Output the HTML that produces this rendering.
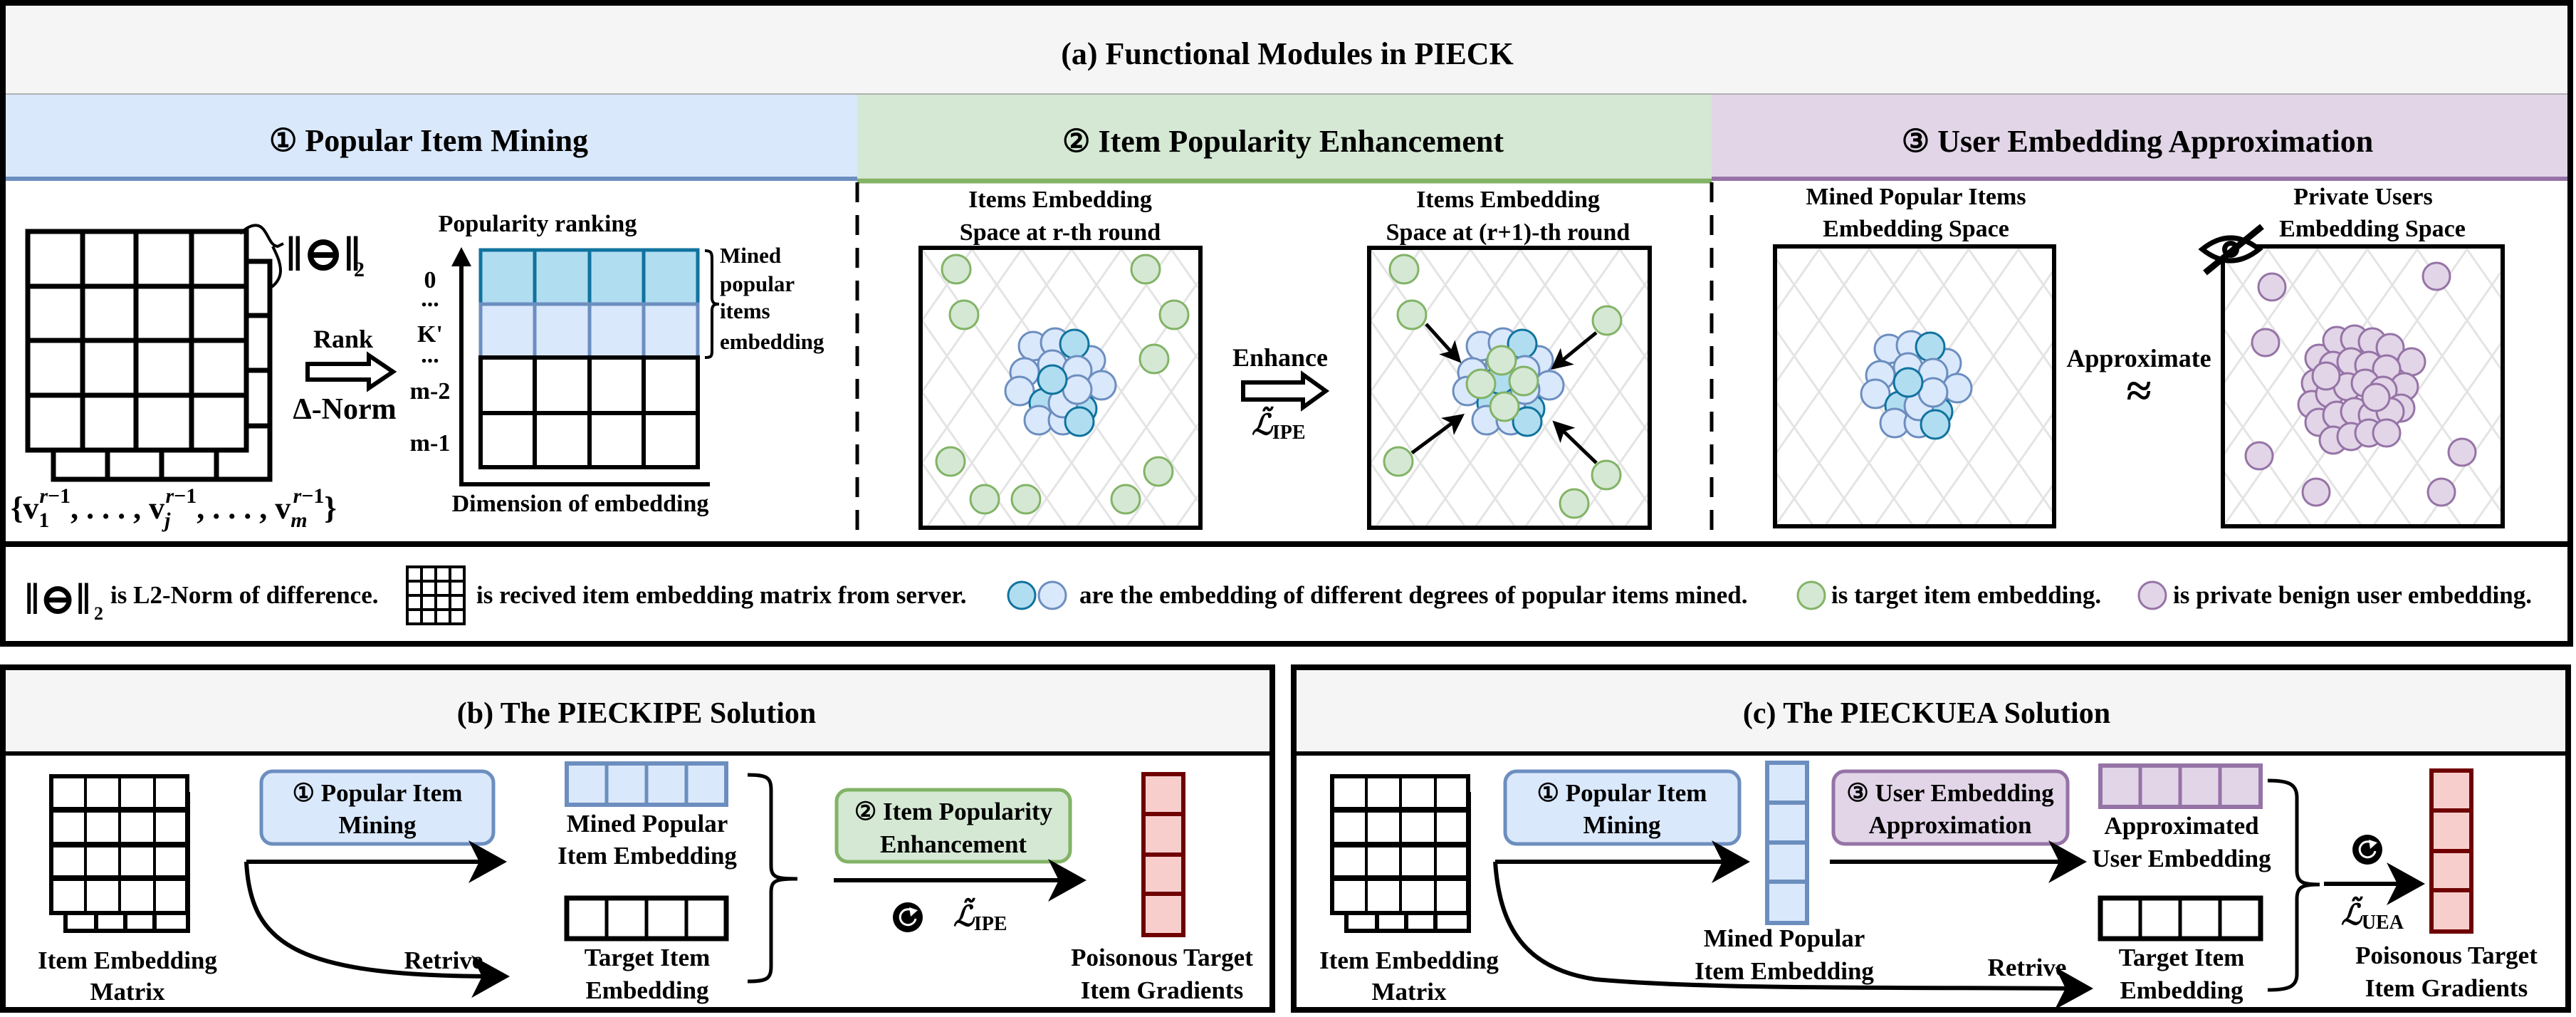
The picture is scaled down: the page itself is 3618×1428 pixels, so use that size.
<!DOCTYPE html>
<html><head><meta charset="utf-8">
<style>
html,body{margin:0;padding:0;background:#fff;}
svg{display:block;}
text{font-family:"Liberation Serif","DejaVu Serif",serif;font-weight:bold;fill:#000;}
</style></head>
<body>
<svg width="3618" height="1428" viewBox="0 0 3618 1428" xmlns="http://www.w3.org/2000/svg">
<defs>
<pattern id="lat" width="70" height="100" patternUnits="userSpaceOnUse">
<path d="M0,0 L70,100 M70,0 L0,100" stroke="#e4e4e4" stroke-width="3" fill="none"/>
</pattern>
<marker id="ah" markerWidth="10" markerHeight="10" refX="8" refY="5" orient="auto" markerUnits="strokeWidth">
<path d="M0,0 L9,5 L0,10 L2.5,5 Z" fill="#000"/>
</marker>
<marker id="ah2" markerWidth="6" markerHeight="6" refX="5" refY="3" orient="auto" markerUnits="strokeWidth">
<path d="M0,0 L6,3 L0,6 L1.5,3 Z" fill="#000"/>
</marker>
<g id="clus">
<g fill="#dae8fc" stroke="#6c8ebf" stroke-width="3">
<circle cx="-38" cy="-53" r="20"/><circle cx="-7" cy="-58" r="20"/><circle cx="43" cy="-33" r="20"/>
<circle cx="-50" cy="-16" r="20"/><circle cx="-11" cy="-27" r="20"/>
</g>
<circle cx="20" cy="-56" r="20" fill="#b1ddf0" stroke="#10739e" stroke-width="3"/>
<g fill="#dae8fc" stroke="#6c8ebf" stroke-width="3">
<circle cx="24" cy="-19" r="20"/><circle cx="-57" cy="10" r="20"/><circle cx="58" cy="2" r="20"/>
</g>
<circle cx="-23" cy="27" r="20" fill="#b1ddf0" stroke="#10739e" stroke-width="3"/>
<circle cx="31" cy="35" r="20" fill="#b1ddf0" stroke="#10739e" stroke-width="3"/>
<g fill="#dae8fc" stroke="#6c8ebf" stroke-width="3">
<circle cx="-30" cy="51" r="20"/><circle cx="4" cy="51" r="20"/><circle cx="4" cy="27" r="20"/><circle cx="24" cy="8" r="20"/>
</g>
<circle cx="-11" cy="-6" r="20" fill="#b1ddf0" stroke="#10739e" stroke-width="3"/>
<circle cx="27" cy="53" r="20" fill="#b1ddf0" stroke="#10739e" stroke-width="3"/>
</g>
<g id="refr">
<circle r="21" fill="#000"/>
<path d="M8,-8 A11,11 0 1 0 11,2" fill="none" stroke="#fff" stroke-width="3"/>
<path d="M2,-14 L14,-10 L4,-1 Z" fill="#fff"/>
</g>
<g id="mat">
<rect x="20" y="25" width="172" height="192" fill="#fff" stroke="#000" stroke-width="6"/>
<path d="M63,217V192M104,217V192M145,217V192M192,72H170M192,120H170M192,167H170" stroke="#000" stroke-width="6"/>
<rect x="0" y="0" width="191" height="192" fill="#fff" stroke="#000" stroke-width="6"/>
<path d="M48,0V192M96,0V192M145,0V192" stroke="#000" stroke-width="4"/>
<path d="M0,47H191M0,96H191M0,143H191" stroke="#000" stroke-width="8"/>
</g>
</defs>

<!-- (a) -->
<rect x="4" y="4" width="3606" height="128" fill="#f5f5f5"/>
<rect x="4" y="132" width="1200" height="118" fill="#dae8fc"/>
<rect x="1204" y="132" width="1200" height="118" fill="#d5e8d4"/>
<rect x="2404" y="132" width="1206" height="118" fill="#e1d5e7"/>
<line x1="4" y1="132" x2="3610" y2="132" stroke="#b0b0b0" stroke-width="2"/>
<line x1="4" y1="251" x2="1204" y2="251" stroke="#6c8ebf" stroke-width="6"/>
<line x1="1204" y1="254" x2="2404" y2="254" stroke="#82b366" stroke-width="7"/>
<line x1="2404" y1="251" x2="3610" y2="251" stroke="#9673a6" stroke-width="6"/>
<text x="1808" y="90" font-size="44" text-anchor="middle">(a) Functional Modules in PIECK</text>
<text x="602" y="212" font-size="44" text-anchor="middle">① Popular Item Mining</text>
<text x="1802" y="213" font-size="44" text-anchor="middle">② Item Popularity Enhancement</text>
<text x="3002" y="213" font-size="44" text-anchor="middle">③ User Embedding Approximation</text>
<line x1="1204" y1="256" x2="1204" y2="762" stroke="#000" stroke-width="5" stroke-dasharray="28,18"/>
<line x1="2404" y1="256" x2="2404" y2="762" stroke="#000" stroke-width="5" stroke-dasharray="28,18"/>
<line x1="4" y1="764" x2="3610" y2="764" stroke="#000" stroke-width="8"/>
<rect x="4" y="4" width="3606" height="900" fill="none" stroke="#000" stroke-width="8"/>

<!-- Section 1 -->
<g stroke="#000" stroke-width="7" fill="#fff">
<rect x="75" y="367" width="304" height="306"/>
<path d="M151,673V632M227,673V632M304,673V632M379,443H346M379,520H346M379,598H346" fill="none"/>
<rect x="39" y="325" width="307" height="307"/>
<path d="M116,325V632M191,325V632M269,325V632M39,402H346M39,478H346M39,555H346" fill="none"/>
</g>
<path d="M337,328 C350,316 362,312 370,322 C378,332 380,345 390,346 L398,342 M383,346 C388,356 394,368 394,380 C394,392 386,400 380,404" fill="none" stroke="#000" stroke-width="4"/>
<text x="402" y="380" font-size="70" font-family="DejaVu Sans" font-weight="normal">‖⊖‖</text>
<text x="497" y="388" font-size="30">2</text>
<text x="15" y="728" font-size="44" font-weight="normal">{<tspan font-weight="bold">v</tspan><tspan font-size="30" dy="12">1</tspan><tspan font-size="30" font-style="italic" dx="-14" dy="-34">r</tspan><tspan font-size="30">−1</tspan><tspan dy="22">, . . . , </tspan><tspan font-weight="bold">v</tspan><tspan font-size="30" font-style="italic" dy="12">j</tspan><tspan font-size="30" font-style="italic" dx="-7" dy="-34">r</tspan><tspan font-size="30">−1</tspan><tspan dy="22">, . . . , </tspan><tspan font-weight="bold">v</tspan><tspan font-size="30" font-style="italic" dy="12">m</tspan><tspan font-size="30" font-style="italic" dx="-20" dy="-34">r</tspan><tspan font-size="30">−1</tspan><tspan dy="22">}</tspan></text>
<text x="482" y="488" font-size="36" text-anchor="middle" font-weight="normal">Rank</text>
<path d="M432,511 H518 V499 L552,522 L518,545 V533 H432 Z" fill="#fff" stroke="#000" stroke-width="6"/>
<text x="484" y="588" font-size="42" text-anchor="middle" font-weight="normal">Δ-Norm</text>
<text x="755" y="325" font-size="34" text-anchor="middle">Popularity ranking</text>
<line x1="648" y1="682" x2="648" y2="372" stroke="#000" stroke-width="6"/>
<path d="M634,374 L648,347 L662,374 Z" fill="#000"/>
<line x1="645" y1="680" x2="997" y2="680" stroke="#000" stroke-width="6"/>
<g stroke-width="5">
<rect x="675" y="351" width="305" height="76" fill="#b1ddf0" stroke="#10739e"/>
<path d="M751,351V427M828,351V427M904,351V427" stroke="#10739e"/>
<rect x="675" y="427" width="305" height="75" fill="#dae8fc" stroke="#6c8ebf"/>
<path d="M751,427V502M828,427V502M904,427V502" stroke="#6c8ebf"/>
</g>
<g stroke="#000" stroke-width="6" fill="#fff">
<rect x="675" y="502" width="305" height="154"/>
<path d="M751,502V656M828,502V656M904,502V656M675,580H980" fill="none"/>
</g>
<line x1="675" y1="427" x2="980" y2="427" stroke="#6c8ebf" stroke-width="5"/>
<g font-size="34" text-anchor="middle">
<text x="604" y="404">0</text><text x="604" y="430">...</text><text x="604" y="480">K'</text>
<text x="604" y="509">...</text><text x="604" y="560">m-2</text><text x="604" y="633">m-1</text>
</g>
<text x="815" y="718" font-size="34" text-anchor="middle">Dimension of  embedding</text>
<path d="M990,352 C1000,352 1000,356 1000,366 L1000,418 C1000,426 1004,427 1010,427 C1004,427 1000,428 1000,436 L1000,490 C1000,500 1000,502 990,502" fill="none" stroke="#000" stroke-width="4"/>
<g font-size="31"><text x="1011" y="369">Mined</text><text x="1011" y="409">popular</text><text x="1011" y="447">items</text><text x="1011" y="490">embedding</text></g>

<!-- Section 2 -->
<g font-size="34" text-anchor="middle">
<text x="1489" y="291">Items Embedding</text><text x="1489" y="337">Space at r-th round</text>
<text x="2118" y="291">Items Embedding</text><text x="2118" y="337">Space at (r+1)-th round</text>
</g>
<rect x="1293" y="348" width="393" height="393" fill="url(#lat)" stroke="#000" stroke-width="6"/>
<rect x="1923" y="348" width="394" height="393" fill="url(#lat)" stroke="#000" stroke-width="6"/>
<g fill="#d5e8d4" stroke="#82b366" stroke-width="3">
<circle cx="1343" cy="378" r="20"/><circle cx="1609" cy="378" r="20"/><circle cx="1354" cy="442" r="20"/>
<circle cx="1649" cy="442" r="20"/><circle cx="1621" cy="504" r="20"/><circle cx="1335" cy="648" r="20"/>
<circle cx="1627" cy="662" r="20"/><circle cx="1383" cy="701" r="20"/><circle cx="1441" cy="701" r="20"/>
<circle cx="1581" cy="701" r="20"/>
</g>
<use href="#clus" x="1489" y="539"/>
<use href="#clus" x="2118" y="539"/>
<g fill="#d5e8d4" stroke="#82b366" stroke-width="3">
<circle cx="2109" cy="506" r="20"/><circle cx="2080" cy="539" r="20"/><circle cx="2140" cy="535" r="20"/><circle cx="2113" cy="571" r="20"/>
<circle cx="1972" cy="378" r="20"/><circle cx="1983" cy="442" r="20"/><circle cx="2257" cy="450" r="20"/>
<circle cx="1964" cy="648" r="20"/><circle cx="2256" cy="667" r="20"/><circle cx="2211" cy="707" r="20"/>
</g>
<g stroke="#000" stroke-width="5" marker-end="url(#ah2)">
<line x1="2003" y1="455" x2="2049" y2="506"/><line x1="2242" y1="467" x2="2182" y2="516"/>
<line x1="1983" y1="636" x2="2053" y2="584"/><line x1="2242" y1="650" x2="2184" y2="594"/>
</g>
<text x="1798" y="514" font-size="36" text-anchor="middle" font-weight="normal">Enhance</text>
<path d="M1746,537 H1830 V526 L1862,549 L1830,572 V561 H1746 Z" fill="#fff" stroke="#000" stroke-width="6"/>
<text x="1758" y="610" font-size="40" font-style="italic" font-weight="normal">ℒ̃<tspan font-size="28" font-style="normal" dy="6">IPE</tspan></text>

<!-- Section 3 -->
<g font-size="34" text-anchor="middle">
<text x="2691" y="287">Mined Popular Items</text><text x="2691" y="332">Embedding Space</text>
<text x="3319" y="287">Private Users</text><text x="3332" y="332">Embedding Space</text>
</g>
<rect x="2493" y="346" width="392" height="393" fill="url(#lat)" stroke="#000" stroke-width="6"/>
<rect x="3122" y="346" width="393" height="393" fill="url(#lat)" stroke="#000" stroke-width="6"/>
<use href="#clus" x="2691" y="543"/>
<g fill="#e1d5e7" stroke="#9673a6" stroke-width="3">
<circle cx="3191" cy="403" r="19"/><circle cx="3422" cy="388" r="19"/><circle cx="3182" cy="481" r="19"/>
<circle cx="3173" cy="640" r="19"/><circle cx="3458" cy="635" r="19"/><circle cx="3253" cy="691" r="19"/><circle cx="3429" cy="691" r="19"/>
<g transform="translate(3317,538)">
<circle cx="-60" cy="-35" r="19"/><circle cx="-35" cy="-60" r="19"/><circle cx="-10" cy="-62" r="19"/><circle cx="15" cy="-58" r="19"/>
<circle cx="40" cy="-50" r="19"/><circle cx="70" cy="-30" r="19"/><circle cx="-65" cy="0" r="19"/><circle cx="-40" cy="-25" r="19"/>
<circle cx="-15" cy="-30" r="19"/><circle cx="10" cy="-25" r="19"/><circle cx="35" cy="-20" r="19"/><circle cx="60" cy="5" r="19"/>
<circle cx="-70" cy="30" r="19"/><circle cx="-45" cy="15" r="19"/><circle cx="-20" cy="5" r="19"/><circle cx="5" cy="0" r="19"/>
<circle cx="30" cy="10" r="19"/><circle cx="55" cy="35" r="19"/><circle cx="-60" cy="55" r="19"/><circle cx="-35" cy="45" r="19"/>
<circle cx="-10" cy="40" r="19"/><circle cx="15" cy="45" r="19"/><circle cx="40" cy="40" r="19"/><circle cx="-40" cy="80" r="19"/>
<circle cx="-15" cy="75" r="19"/><circle cx="10" cy="70" r="19"/><circle cx="35" cy="70" r="19"/><circle cx="-50" cy="-10" r="19"/>
<circle cx="20" cy="20" r="19"/>
</g>
</g>
<g>
<path d="M3093,350 Q3133,318 3173,350 Q3133,382 3093,350 Z" fill="#fff" stroke="#000" stroke-width="7"/>
<circle cx="3133" cy="350" r="12" fill="#000"/><circle cx="3133" cy="350" r="5" fill="#fff"/>
<line x1="3097" y1="383" x2="3177" y2="318" stroke="#000" stroke-width="9"/>
</g>
<text x="3004" y="515" font-size="36" text-anchor="middle">Approximate</text>
<text x="3004" y="570" font-size="64" text-anchor="middle" font-weight="normal" font-family="DejaVu Serif">≈</text>

<!-- Legend -->
<text x="35" y="862" font-size="62" font-family="DejaVu Sans" font-weight="normal">‖⊖‖</text>
<text x="132" y="870" font-size="26">2</text>
<text x="155" y="847" font-size="35">is L2-Norm of difference.</text>
<g transform="translate(572,796)">
<rect x="0" y="0" width="80" height="80" fill="#fff" stroke="#000" stroke-width="4"/>
<path d="M20,0V80M40,0V80M60,0V80M0,20H80M0,40H80M0,60H80" stroke="#000" stroke-width="4"/>
</g>
<text x="669" y="847" font-size="35">is recived item embedding matrix from server.</text>
<circle cx="1435" cy="836" r="19" fill="#b1ddf0" stroke="#10739e" stroke-width="3"/>
<circle cx="1478" cy="836" r="19" fill="#dae8fc" stroke="#6c8ebf" stroke-width="3"/>
<text x="1516" y="847" font-size="35">are the embedding of different degrees of popular items mined.</text>
<circle cx="2544" cy="836" r="19" fill="#d5e8d4" stroke="#82b366" stroke-width="3"/>
<text x="2572" y="847" font-size="35">is target item embedding.</text>
<circle cx="3023" cy="836" r="19" fill="#e1d5e7" stroke="#9673a6" stroke-width="3"/>
<text x="3052" y="847" font-size="35">is private benign user embedding.</text>

<!-- (b) -->
<rect x="4" y="940" width="1783" height="117" fill="#f5f5f5"/>
<line x1="4" y1="1058" x2="1787" y2="1058" stroke="#000" stroke-width="6"/>
<rect x="4" y="937" width="1783" height="481" fill="none" stroke="#000" stroke-width="8"/>
<text x="894" y="1015" font-size="42" text-anchor="middle">(b) The PIECKIPE Solution</text>
<use href="#mat" x="72" y="1090"/>
<g font-size="35" text-anchor="middle">
<text x="179" y="1360">Item Embedding</text><text x="179" y="1404">Matrix</text>
</g>
<rect x="367" y="1083" width="326" height="102" rx="16" fill="#dae8fc" stroke="#6c8ebf" stroke-width="5"/>
<g font-size="35" text-anchor="middle"><text x="530" y="1125">① Popular Item</text><text x="530" y="1170">Mining</text></g>
<path d="M346,1210 H706" stroke="#000" stroke-width="6" fill="none" marker-end="url(#ah)"/>
<path d="M346,1210 C352,1330 420,1372 710,1371" stroke="#000" stroke-width="6" fill="none" marker-end="url(#ah)"/>
<text x="623" y="1360" font-size="35" text-anchor="middle">Retrive</text>
<rect x="796" y="1072" width="224" height="58" fill="#dae8fc" stroke="#6c8ebf" stroke-width="6"/>
<path d="M852,1072V1130M908,1072V1130M964,1072V1130" stroke="#6c8ebf" stroke-width="5"/>
<g font-size="35" text-anchor="middle"><text x="909" y="1168">Mined Popular</text><text x="909" y="1213">Item Embedding</text></g>
<rect x="796" y="1261" width="224" height="57" fill="#fff" stroke="#000" stroke-width="7"/>
<path d="M852,1261V1318M908,1261V1318M964,1261V1318" stroke="#000" stroke-width="5"/>
<g font-size="35" text-anchor="middle"><text x="909" y="1356">Target Item</text><text x="909" y="1402">Embedding</text></g>
<path d="M1050,1088 C1078,1088 1083,1092 1083,1110 L1083,1215 C1083,1232 1090,1234 1120,1234 C1090,1234 1083,1236 1083,1253 L1083,1356 C1083,1374 1078,1378 1050,1378" fill="none" stroke="#000" stroke-width="5"/>
<rect x="1175" y="1109" width="328" height="101" rx="16" fill="#d5e8d4" stroke="#82b366" stroke-width="5"/>
<g font-size="35" text-anchor="middle"><text x="1339" y="1151">② Item Popularity</text><text x="1339" y="1197">Enhancement</text></g>
<path d="M1171,1236 H1520" stroke="#000" stroke-width="6" fill="none" marker-end="url(#ah)"/>
<use href="#refr" x="1275" y="1288"/>
<text x="1339" y="1300" font-size="40" font-style="italic" font-weight="normal">ℒ̃<tspan font-size="28" font-style="normal" dy="6">IPE</tspan></text>
<g transform="translate(1606,1087)">
<rect x="0" y="0" width="56" height="226" fill="#f8cecc" stroke="#6f0000" stroke-width="6"/>
<path d="M0,56H56M0,113H56M0,168H56" stroke="#6f0000" stroke-width="6"/>
</g>
<g font-size="35" text-anchor="middle"><text x="1632" y="1356">Poisonous Target</text><text x="1632" y="1402">Item Gradients</text></g>

<!-- (c) -->
<rect x="1817" y="940" width="1790" height="117" fill="#f5f5f5"/>
<line x1="1817" y1="1058" x2="3607" y2="1058" stroke="#000" stroke-width="6"/>
<rect x="1817" y="937" width="1790" height="481" fill="none" stroke="#000" stroke-width="8"/>
<text x="2706" y="1015" font-size="42" text-anchor="middle">(c) The PIECKUEA Solution</text>
<use href="#mat" x="1871" y="1090"/>
<g font-size="35" text-anchor="middle">
<text x="1979" y="1360">Item Embedding</text><text x="1979" y="1404">Matrix</text>
</g>
<rect x="2114" y="1083" width="329" height="102" rx="16" fill="#dae8fc" stroke="#6c8ebf" stroke-width="5"/>
<g font-size="35" text-anchor="middle"><text x="2278" y="1125">① Popular Item</text><text x="2278" y="1170">Mining</text></g>
<path d="M2100,1210 H2452" stroke="#000" stroke-width="6" fill="none" marker-end="url(#ah)"/>
<path d="M2100,1210 C2106,1300 2140,1360 2240,1375 C2400,1390 2700,1386 2934,1388" stroke="#000" stroke-width="6" fill="none" marker-end="url(#ah)"/>
<text x="2847" y="1370" font-size="35" text-anchor="middle">Retrive</text>
<rect x="2482" y="1071" width="56" height="225" fill="#dae8fc" stroke="#6c8ebf" stroke-width="6"/>
<path d="M2482,1127H2538M2482,1183H2538M2482,1238H2538" stroke="#6c8ebf" stroke-width="6"/>
<g font-size="35" text-anchor="middle"><text x="2506" y="1329">Mined Popular</text><text x="2506" y="1375">Item Embedding</text></g>
<rect x="2575" y="1083" width="329" height="102" rx="16" fill="#e1d5e7" stroke="#9673a6" stroke-width="5"/>
<g font-size="35" text-anchor="middle"><text x="2739" y="1125">③ User Embedding</text><text x="2739" y="1170">Approximation</text></g>
<path d="M2570,1210 H2925" stroke="#000" stroke-width="6" fill="none" marker-end="url(#ah)"/>
<rect x="2950" y="1075" width="225" height="58" fill="#e1d5e7" stroke="#9673a6" stroke-width="6"/>
<path d="M3006,1075V1133M3062,1075V1133M3118,1075V1133" stroke="#9673a6" stroke-width="5"/>
<g font-size="35" text-anchor="middle"><text x="3064" y="1171">Approximated</text><text x="3064" y="1217">User Embedding</text></g>
<rect x="2950" y="1261" width="225" height="57" fill="#fff" stroke="#000" stroke-width="7"/>
<path d="M3006,1261V1318M3062,1261V1318M3118,1261V1318" stroke="#000" stroke-width="5"/>
<g font-size="35" text-anchor="middle"><text x="3064" y="1356">Target Item</text><text x="3064" y="1402">Embedding</text></g>
<path d="M3185,1096 C3213,1096 3226,1100 3226,1120 L3226,1222 C3226,1240 3236,1242 3258,1242 C3236,1242 3226,1244 3226,1262 L3226,1368 C3226,1386 3213,1390 3185,1390" fill="none" stroke="#000" stroke-width="5"/>
<path d="M3264,1241 H3400" stroke="#000" stroke-width="6" fill="none" marker-end="url(#ah)"/>
<use href="#refr" x="3325" y="1193"/>
<text x="3288" y="1298" font-size="40" font-style="italic" font-weight="normal">ℒ̃<tspan font-size="28" font-style="normal" dy="6">UEA</tspan></text>
<g transform="translate(3415,1082)">
<rect x="0" y="0" width="56" height="226" fill="#f8cecc" stroke="#6f0000" stroke-width="6"/>
<path d="M0,56H56M0,113H56M0,168H56" stroke="#6f0000" stroke-width="6"/>
</g>
<g font-size="35" text-anchor="middle"><text x="3436" y="1353">Poisonous Target</text><text x="3436" y="1399">Item Gradients</text></g>
</svg>
</body></html>
